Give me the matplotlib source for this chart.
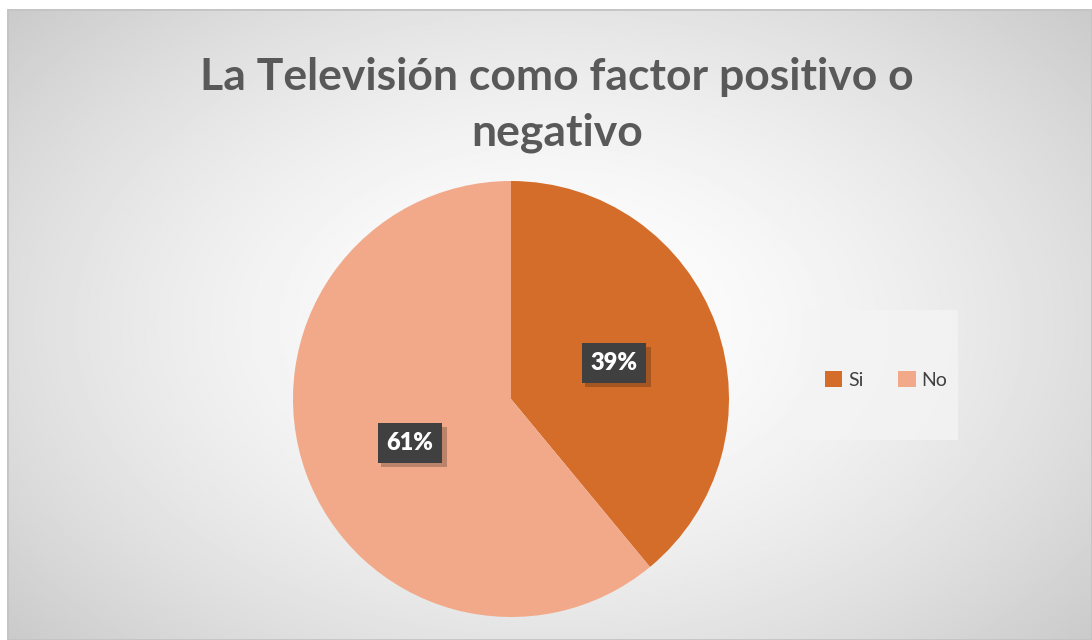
import numpy as np
import matplotlib.pyplot as plt
from matplotlib.patches import Rectangle

labels = ['Si', 'No']
values = [39, 61]
colors = ['#D46D2A', '#F2A98A']
title = 'La Televisión como factor positivo o\nnegativo'

W, H = 1092, 640
fig = plt.figure(figsize=(W / 100, H / 100), dpi=100)
fig.patch.set_facecolor('white')

# radial gray gradient background inside the chart frame
bg = fig.add_axes([7 / W, 0, 1 - 7 / W, 1 - 9 / H])
yy, xx = np.mgrid[0:1:300j, 0:1:500j]
r = np.sqrt(((xx - 0.5) / 0.75) ** 2 + ((yy - 0.5) / 0.85) ** 2)
g = 1.0 - 0.25 * np.clip(r, 0, 1) ** 1.6
bg.imshow(g, cmap='gray', vmin=0, vmax=1, aspect='auto', extent=[0, 1, 0, 1])
bg.add_patch(Rectangle((0.0, 0.0), 1, 1, fill=False, ec='#c4c4c4', lw=2,
                       transform=bg.transAxes))
bg.axis('off')

# legend background box
fig.patches.append(Rectangle((801 / W, 1 - 440 / H), 157 / W, 130 / H,
                             transform=fig.transFigure, fc='#f4f4f4', ec='none',
                             alpha=0.8, zorder=1))

ax = fig.add_axes([(511 - 220) / W, 1 - (399 + 220) / H, 440 / W, 440 / H])
wedges, _ = ax.pie(values, colors=colors, startangle=90, counterclock=False,
                   radius=1.0)
ax.set_xlim(-220 / 218, 220 / 218)
ax.set_ylim(-220 / 218, 220 / 218)
ax.set_aspect('equal')
ax.axis('off')

# data labels in dark boxes with a soft shadow
pos = [(614, 363), (410, 443)]
for (px, py), v in zip(pos, values):
    fig.patches.append(Rectangle(((px - 29) / W, 1 - (py + 24) / H), 66 / W, 40 / H,
                                 transform=fig.transFigure, fc='black', alpha=0.22,
                                 ec='none', zorder=2))
    fig.patches.append(Rectangle(((px - 32) / W, 1 - (py + 20) / H), 64 / W, 40 / H,
                                 transform=fig.transFigure, fc='#404040',
                                 ec='none', zorder=3))
    fig.text(px / W, 1 - py / H, f'{v}%', ha='center', va='center',
             fontsize=17, fontweight='heavy', color='white', family='Lato',
             zorder=4)

fig.text(557 / W, 1 - 105 / H, title, ha='center', va='center', fontsize=32,
         fontweight='bold', color='#595959', family='Lato', linespacing=1.45)

leg = fig.legend(wedges, labels, loc='center', bbox_to_anchor=(886 / W, 1 - 380 / H),
                 ncol=2, frameon=False, handlelength=0.9, handleheight=0.9,
                 handletextpad=0.3, columnspacing=1.8,
                 prop={'family': 'Lato', 'size': 14})
for t in leg.get_texts():
    t.set_color('#404040')

fig.savefig('out.png', dpi=100)
